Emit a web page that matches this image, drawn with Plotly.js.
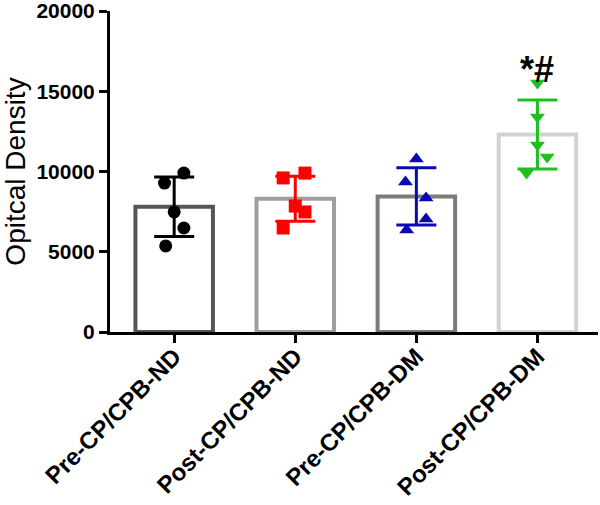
<!DOCTYPE html>
<html>
<head>
<meta charset="utf-8">
<script src="https://cdn.plot.ly/plotly-3.0.1.min.js"></script>
<style>
  html, body { margin: 0; padding: 0; background: #fff; }
  #od { width: 600px; height: 505px; }
</style>
</head>
<body>
<div id="od"></div>
<script>
/* groups */
var groups = ['Pre-CP/CPB-ND', 'Post-CP/CPB-ND', 'Pre-CP/CPB-DM', 'Post-CP/CPB-DM'];
var means = [7800, 8300, 8450, 12300];
var sds = [1850, 1400, 1780, 2150];

/* individual samples */
var preND = [9280, 9900, 7480, 6480, 5360];
var postND = [9600, 9900, 7850, 7480, 6480];
var preDM = [10780, 9350, 8350, 7040, 6360];
var postDM = [15510, 13400, 11650, 10900, 9900];

/* horizontal scatter of the dots */
var jitterND1 = [-0.08, 0.08, 0, 0.08, -0.07];
var jitterND2 = [-0.1, 0.08, 0, 0.08, -0.1];
var jitterDM1 = [0, -0.09, 0.08, 0.08, -0.08];
var jitterDM2 = [0, 0, 0, 0.08, -0.09];

var samples = [preND, postND, preDM, postDM];
var jitters = [jitterND1, jitterND2, jitterDM1, jitterDM2];
var dotColors = ['#000000', '#ff0000', '#0a0ab4', '#1ec01e'];
var dotSymbols = ['circle', 'square', 'triangle-up', 'triangle-down'];
var barColors = ['#555555', '#9e9e9e', '#7b7b7b', '#d2d2d2'];

var data = [{
  type: 'bar',
  x: [0, 1, 2, 3],
  y: means,
  width: 0.64,
  marker: { color: '#ffffff', line: { color: barColors, width: 4 } },
  hoverinfo: 'skip'
}];

for (var i = 0; i < groups.length; i++) {
  // mean +- SD
  data.push({
    type: 'scatter',
    mode: 'markers',
    x: [i],
    y: [means[i]],
    marker: { size: 1, color: 'rgba(0,0,0,0)' },
    error_y: { type: 'data', array: [sds[i]], visible: true, color: dotColors[i], thickness: 3, width: 20 }
  });
  // dots
  data.push({
    type: 'scatter',
    mode: 'markers',
    x: samples[i].map(function (v, k) { return i + jitters[i][k]; }),
    y: samples[i],
    marker: { symbol: dotSymbols[i], size: 13, color: dotColors[i] },
    cliponaxis: false
  });
}

var layout = {
  width: 600,
  height: 505,
  margin: { l: 110, r: 2, t: 11, b: 173 },
  showlegend: false,
  paper_bgcolor: '#ffffff',
  plot_bgcolor: '#ffffff',
  font: { family: 'Liberation Sans, Arial, sans-serif', color: '#000' },
  xaxis: {
    range: [-0.53, 3.5],
    tickmode: 'array',
    tickvals: [0, 1, 2, 3],
    ticktext: groups,
    tickangle: -45,
    ticklabelstandoff: -10,
    tickfont: { size: 24, family: 'Liberation Sans, Arial, sans-serif', weight: 'bold' },
    showline: true, linecolor: '#000', linewidth: 3,
    ticks: 'outside', ticklen: 8, tickwidth: 3, tickcolor: '#000',
    showgrid: false, zeroline: false
  },
  yaxis: {
    range: [0, 20000],
    tickvals: [0, 5000, 10000, 15000, 20000],
    ticktext: ['0', '5000', '10000', '15000', '20000'],
    tickmode: 'array',
    ticklabeloverflow: 'allow',
    tickfont: { size: 21, family: 'Liberation Sans, Arial, sans-serif', weight: 'bold' },
    showline: true, linecolor: '#000', linewidth: 3,
    ticks: 'outside', ticklen: 8, tickwidth: 3, tickcolor: '#000',
    showgrid: false, zeroline: false,
    title: { text: 'Opitcal Density', font: { size: 28 }, standoff: 6 }
  },
  annotations: [{
    x: 3, y: 16350, xref: 'x', yref: 'y',
    text: '<b>*#</b>', showarrow: false,
    font: { size: 36, color: '#000' }
  }]
};

Plotly.newPlot('od', data, layout, { displayModeBar: false });
</script>
</body>
</html>
